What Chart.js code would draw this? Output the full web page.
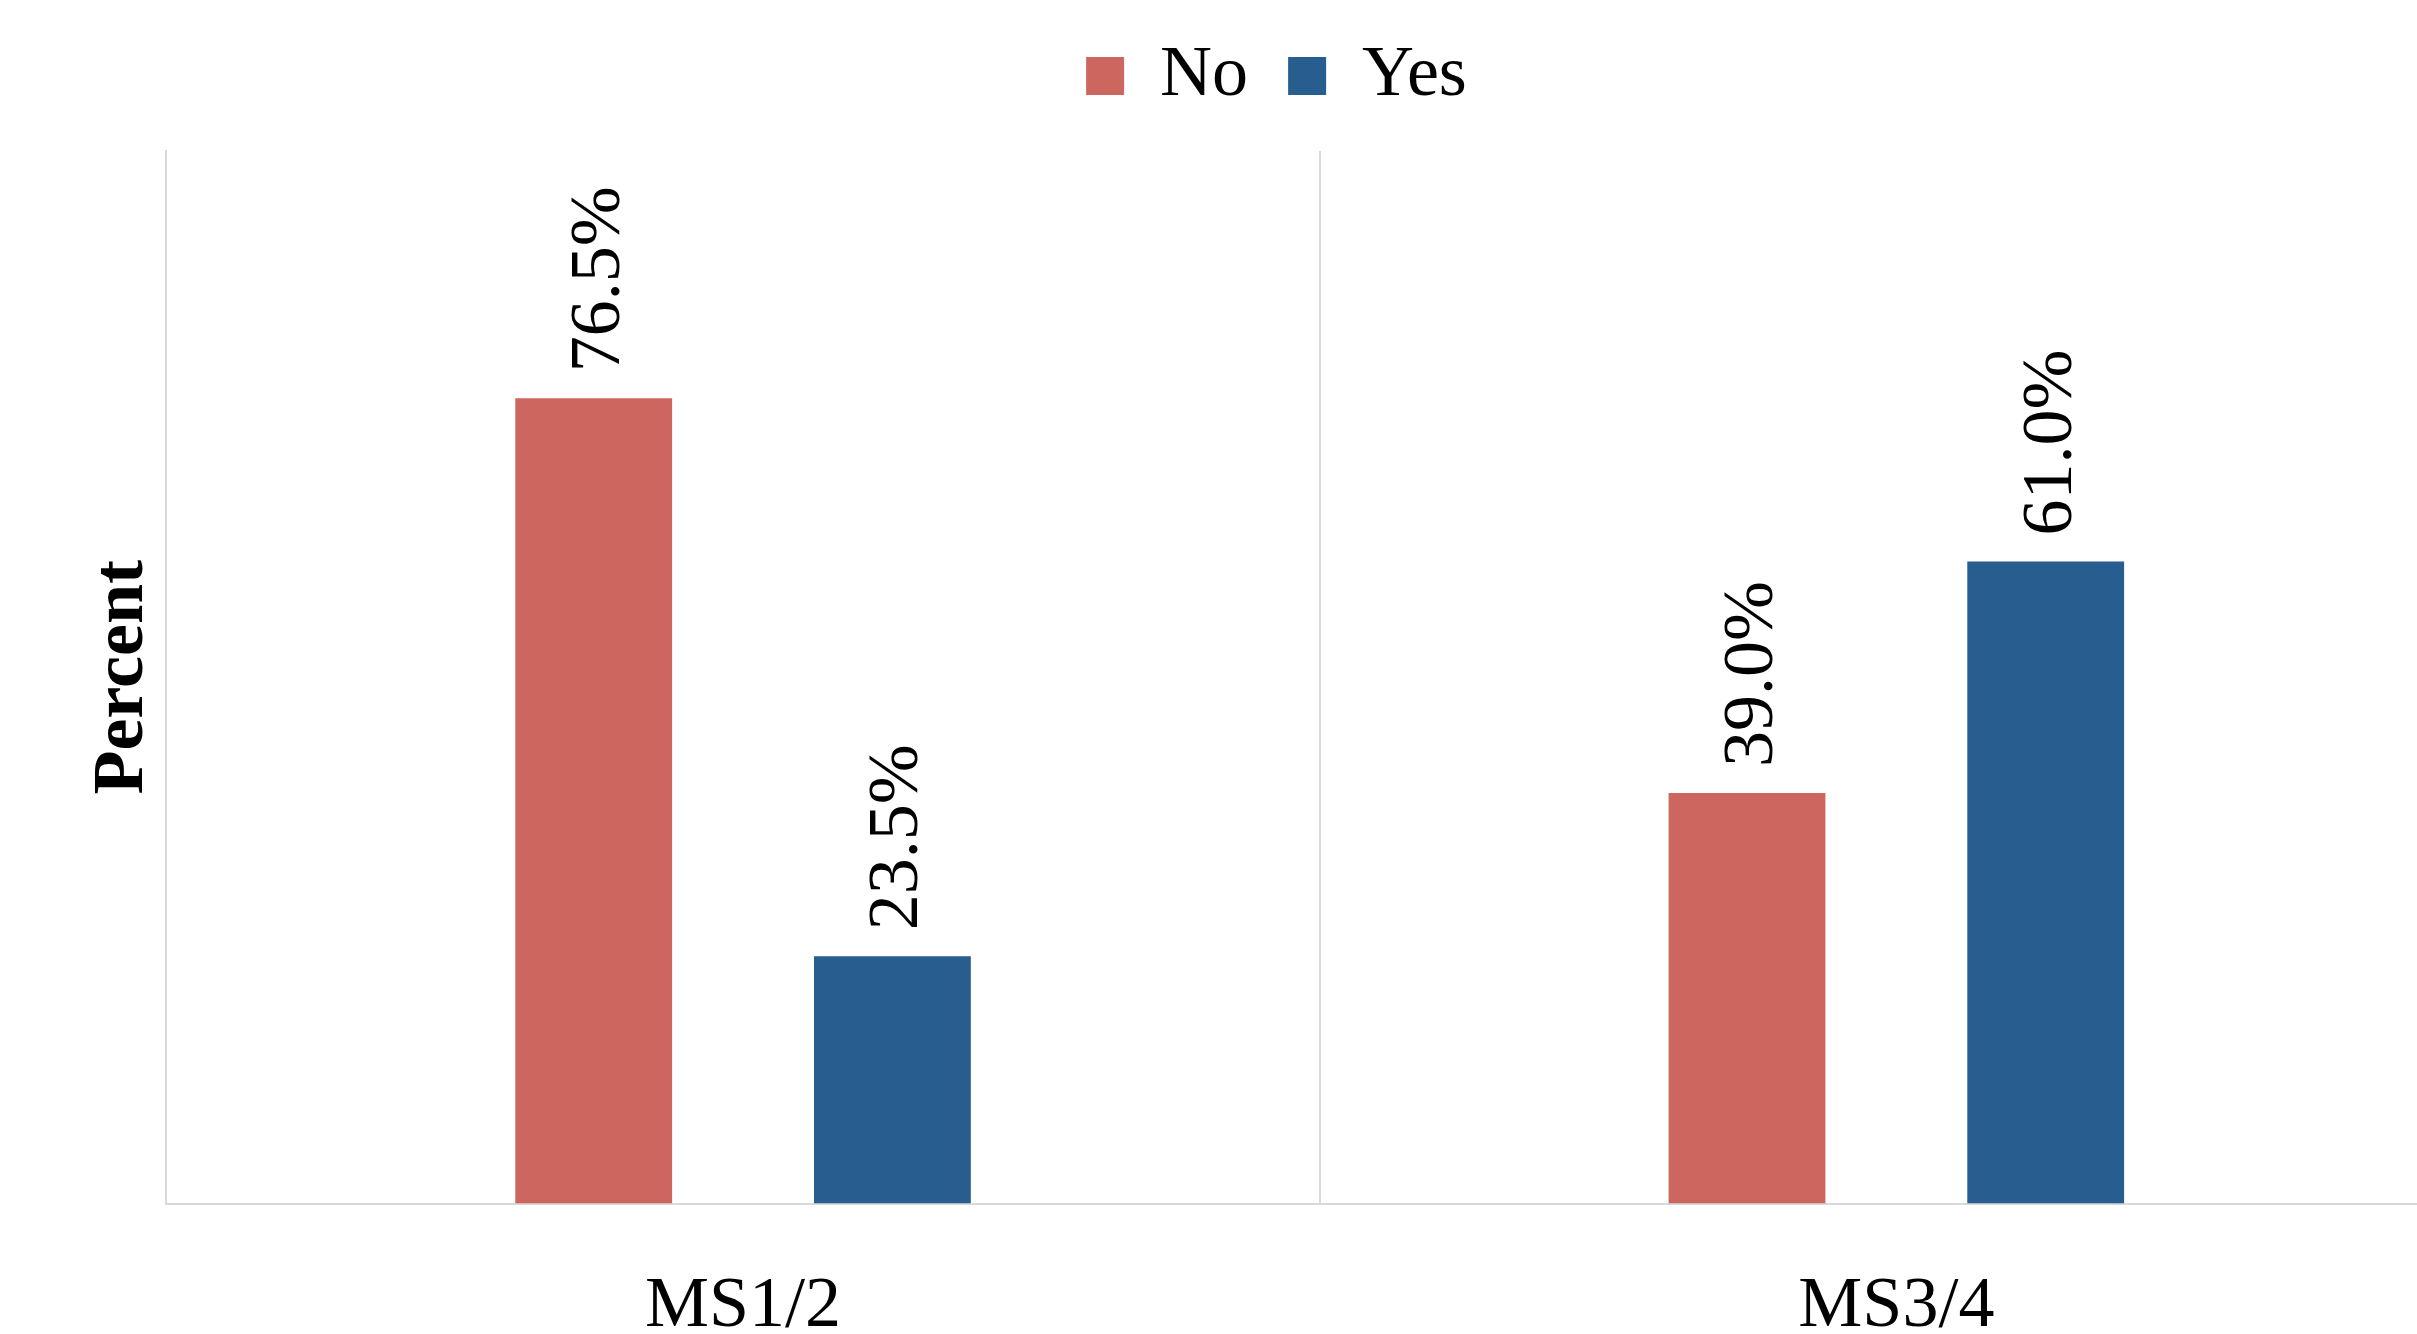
<!DOCTYPE html>
<html>
<head>
<meta charset="utf-8">
<script src="https://cdn.jsdelivr.net/npm/chart.js@4.4.0/dist/chart.umd.min.js"></script>
<style>
    html, body { margin: 0; padding: 0; background: #fff; overflow: hidden; }
    #wrap { width: 2560px; height: 1334px; position: relative; }
</style>
</head>
<body>
<div id="wrap"><canvas id="grafico"></canvas></div>
<script>
const categorias = ['MS1/2', 'MS3/4'];
const valoresNo = [76.5, 39.0];
const valoresYes = [23.5, 61.0];
const nomesSeries = ['No', 'Yes'];

const fonteSerif = "'Liberation Serif', 'Times New Roman', serif";

// rotulos verticais em cima das barras
const rotulosBarras = {
    id: 'rotulosBarras',
    afterDatasetsDraw(chart) {
        const ctx = chart.ctx;
        ctx.save();
        ctx.font = `72px ${fonteSerif}`;
        ctx.fillStyle = '#000';
        ctx.textAlign = 'left';
        ctx.textBaseline = 'middle';
        chart.data.datasets.forEach((ds, i) => {
            chart.getDatasetMeta(i).data.forEach((bar, j) => {
                ctx.save();
                ctx.translate(bar.x + 6, bar.y - 26);
                ctx.rotate(-Math.PI / 2);
                ctx.fillText(ds.data[j].toFixed(1) + '%', 0, 0);
                ctx.restore();
            });
        });
        ctx.restore();
    }
};

// espaco extra abaixo da legenda
const espacoLegenda = {
    id: 'espacoLegenda',
    beforeInit(chart) {
        const fitOriginal = chart.legend.fit;
        chart.legend.fit = function() {
            fitOriginal.bind(chart.legend)();
            this.height += 29;
        };
    }
};

const ctx = document.getElementById('grafico').getContext('2d');
new Chart(ctx, {
    type: 'bar',
    data: {
        labels: categorias,
        datasets: [{
            label: nomesSeries[0],
            data: valoresNo,
            backgroundColor: '#CD665F',
            categoryPercentage: 0.518,
            barPercentage: 0.525
        }, {
            label: nomesSeries[1],
            data: valoresYes,
            backgroundColor: '#275E8F',
            categoryPercentage: 0.518,
            barPercentage: 0.525
        }]
    },
    options: {
        responsive: true,
        maintainAspectRatio: false,
        animation: false,
        layout: {
            padding: { left: 80, right: 87, top: 0, bottom: -76 }
        },
        plugins: {
            legend: {
                display: true,
                position: 'top',
                labels: {
                    color: '#000',
                    boxWidth: 38,
                    boxHeight: 38,
                    padding: 40,
                    font: { family: fonteSerif, size: 72 }
                }
            },
            tooltip: { enabled: false }
        },
        scales: {
            x: {
                offset: true,
                grid: {
                    display: true,
                    offset: true,
                    color: '#d9d9d9',
                    lineWidth: 2,
                    drawTicks: false
                },
                border: { display: true, color: '#d9d9d9', width: 2 },
                ticks: {
                    color: '#000',
                    padding: 60,
                    font: { family: fonteSerif, size: 72 }
                }
            },
            y: {
                min: 0,
                max: 100,
                grid: { display: false, drawTicks: false },
                border: { display: true, color: '#d9d9d9', width: 2 },
                ticks: { display: false },
                title: {
                    display: true,
                    text: 'Percent',
                    color: '#000',
                    padding: 0,
                    font: { family: fonteSerif, size: 72, weight: 'bold' }
                }
            }
        }
    },
    plugins: [rotulosBarras, espacoLegenda]
});
</script>
</body>
</html>
